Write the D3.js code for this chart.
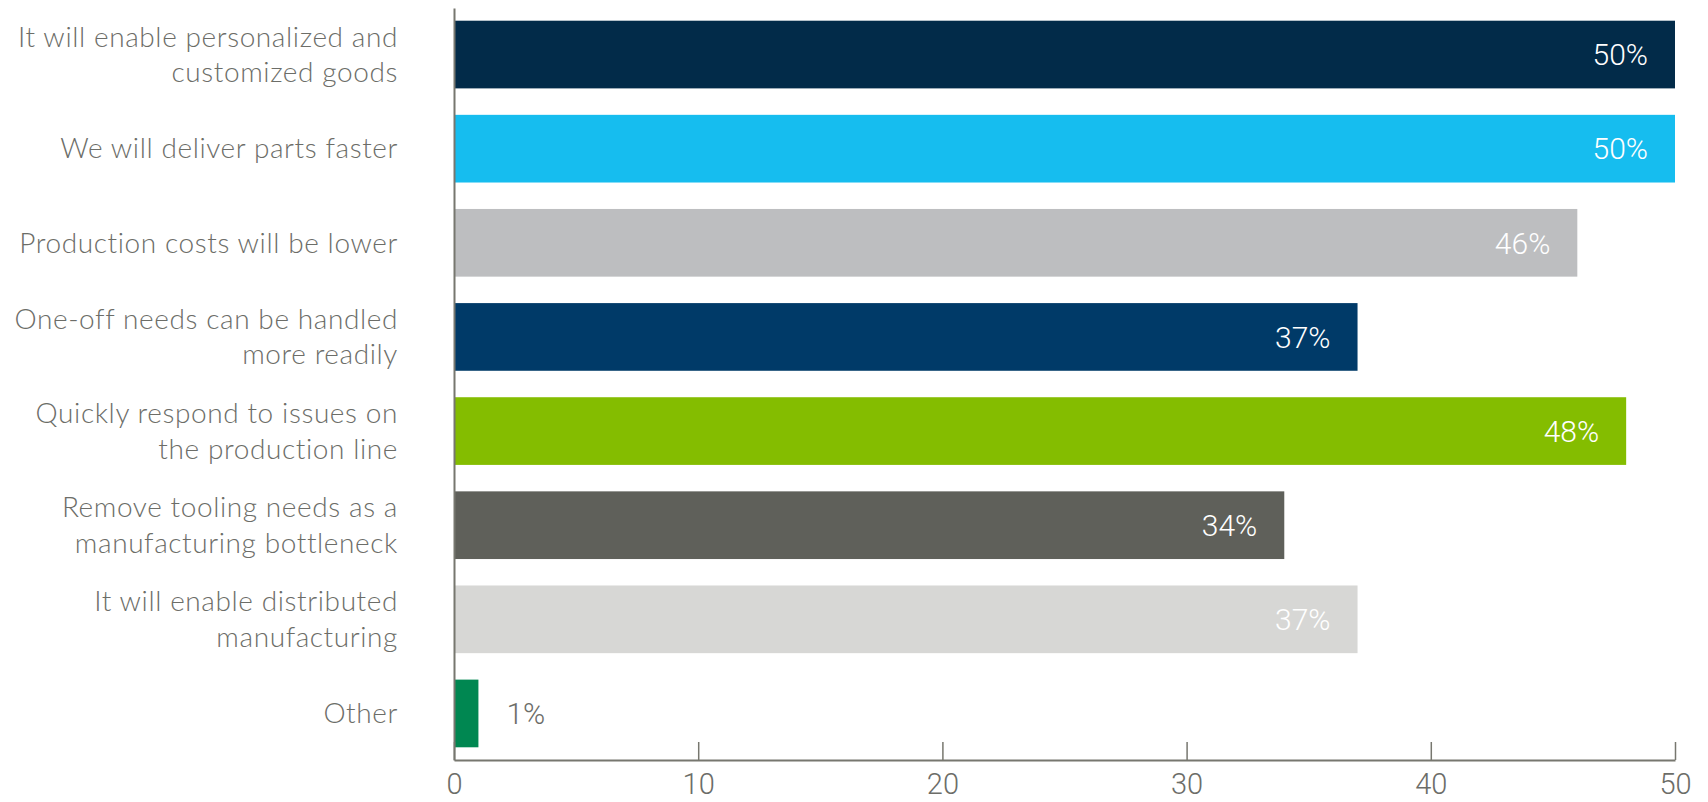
<!DOCTYPE html>
<html>
<head>
<meta charset="utf-8">
<script src="https://cdn.jsdelivr.net/npm/d3@7"></script>
<style>
  html, body { margin: 0; padding: 0; background: #ffffff; }
  svg { display: block; }
</style>
</head>
<body>
<svg id="chart" width="1708" height="802"></svg>
<script>
// Survey answers, top to bottom (each inner array is one wrapped label)
const categories = [
  ["It will enable personalized and", "customized goods"],
  ["We will deliver parts faster"],
  ["Production costs will be lower"],
  ["One-off needs can be handled", "more readily"],
  ["Quickly respond to issues on", "the production line"],
  ["Remove tooling needs as a", "manufacturing bottleneck"],
  ["It will enable distributed", "manufacturing"],
  ["Other"]
];
const values = [50, 50, 46, 37, 48, 34, 37, 1];
const barColors = ["#022b49", "#16bdef", "#bdbec0", "#003a68", "#84bd00", "#5f605a", "#d7d7d5", "#008751"];
const xTicks = [0, 10, 20, 30, 40, 50];

const svg = d3.select("#chart");
const plot = { left: 454, right: 1675, top: 8, bottom: 760 };

const x = d3.scaleLinear().domain([0, 50]).range([plot.left, plot.right]);
const y = d3.scaleBand()
  .domain(d3.range(categories.length))
  .range([plot.top, plot.bottom])
  .paddingInner(0.281)
  .paddingOuter(0.135);

const axisColor = "#77776f";
const textColor = "#6c6d68";

// Bars
svg.append("g").selectAll("rect")
  .data(values)
  .join("rect")
  .attr("x", x(0))
  .attr("y", (d, i) => y(i))
  .attr("width", d => x(d) - x(0))
  .attr("height", y.bandwidth())
  .attr("fill", (d, i) => barColors[i]);

// Value labels: inside the bar end, or just outside for short bars
svg.append("g").selectAll("text")
  .data(values)
  .join("text")
  .attr("x", d => d > 5 ? x(d) - 27 : x(d) + 28)
  .attr("y", (d, i) => y(i) + y.bandwidth() / 2)
  .attr("dy", "0.36em")
  .attr("text-anchor", d => d > 5 ? "end" : "start")
  .attr("font-family", "Roboto, sans-serif")
  .attr("font-weight", 300)
  .attr("font-size", 30)
  .attr("fill", d => d > 5 ? "#ffffff" : textColor)
  .text(d => d + "%");

// Bottom axis with ticks pointing up into the plot
const xAxis = d3.axisBottom(x)
  .tickValues(xTicks)
  .tickSizeInner(-18)
  .tickSizeOuter(0)
  .tickPadding(13)
  .tickFormat(d3.format("d"));

const gx = svg.append("g")
  .attr("transform", `translate(0,${plot.bottom})`)
  .call(xAxis);
gx.select(".domain").attr("stroke", axisColor).attr("stroke-width", 2);
gx.selectAll(".tick line").attr("stroke", axisColor).attr("stroke-width", 1.5);
gx.selectAll(".tick text")
  .attr("font-family", "Roboto, sans-serif")
  .attr("font-weight", 300)
  .attr("font-size", 29)
  .attr("fill", textColor);

// Left axis line and category labels
const yAxis = d3.axisLeft(y).tickSize(0).tickFormat("");
const gy = svg.append("g")
  .attr("transform", `translate(${plot.left},0)`)
  .call(yAxis);
gy.select(".domain").attr("stroke", axisColor).attr("stroke-width", 2);

const lineH = 35.5;
const labels = svg.append("g").selectAll("text")
  .data(categories)
  .join("text")
  .attr("text-anchor", "end")
  .attr("font-family", "Lato, sans-serif")
  .attr("font-weight", 300)
  .attr("font-size", 28)
  .attr("letter-spacing", "0.6px")
  .attr("fill", textColor)
  .attr("transform", (d, i) => `translate(${plot.left - 56},${y(i) + y.bandwidth() / 2})`);

labels.selectAll("tspan")
  .data(d => d.map((t, k) => ({ t, k, n: d.length })))
  .join("tspan")
  .attr("x", 0)
  .attr("y", d => (d.k - (d.n - 1) / 2) * lineH)
  .attr("dy", "0.35em")
  .text(d => d.t);
</script>
</body>
</html>
